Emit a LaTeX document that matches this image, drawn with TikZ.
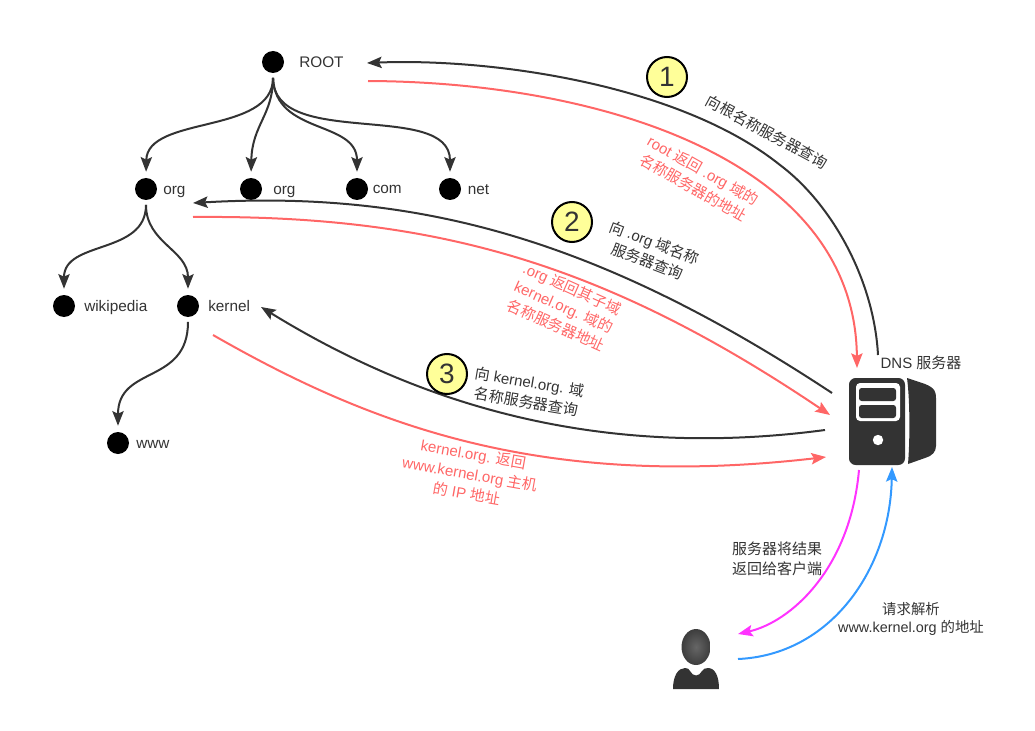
\documentclass[tikz,border=0pt]{standalone}
\usepackage{fontspec}
\setmainfont{Liberation Sans}
\newfontfamily\cjk{Noto Sans CJK SC}
\newcommand{\zh}[1]{{\cjk #1}}
\usetikzlibrary{arrows.meta}
\definecolor{ink}{HTML}{333333}
\definecolor{redline}{HTML}{FF6666}
\definecolor{magline}{HTML}{FF33FF}
\definecolor{blueline}{HTML}{3399FF}
\definecolor{badge}{HTML}{FFFF99}
\tikzset{
  dot/.style={circle,fill=black,draw=none,minimum size=16.5pt,inner sep=0pt},
  lbl/.style={text=ink,inner sep=0pt,font=\fontsize{11.25}{15}\selectfont,align=center},
  treelbl/.style={lbl,anchor=base west,font=\fontsize{11.5}{15}\selectfont},
  redlbl/.style={lbl,text=redline},
  num/.style={circle,draw=black,line width=1.5pt,fill=badge,minimum size=30pt,inner sep=0pt,text=ink,font=\fontsize{21}{24}\selectfont},
  conn/.style={line width=1.5pt,-{Stealth[length=11pt,width=8.5pt,inset=2pt]}},
  tree/.style={conn,draw=ink,shorten >=4.5pt,shorten <=3.5pt},
  ask/.style={conn,draw=ink},
  reply/.style={conn,draw=redline},
}
\begin{document}
\begin{tikzpicture}[x=0.75pt,y=-0.75pt]
\useasboundingbox (0,0) rectangle (1035,731);
% tree nodes
\node[dot] (root) at (273,62) {};
\node[dot] (org) at (146,189) {};
\node[dot] (orgb) at (251,189) {};
\node[dot] (com) at (357,189) {};
\node[dot] (net) at (450,189) {};
\node[dot] (wiki) at (64,306) {};
\node[dot] (kernel) at (188,306) {};
\node[dot] (www) at (118,443) {};
\node[treelbl] (lroot) at (299,68) {ROOT};
\node[treelbl] (lorg) at (163,195) {org};
\node[treelbl] (lorgb) at (273,195) {org};
\node[treelbl] (lcom) at (372.5,194) {com};
\node[treelbl] (lnet) at (467.5,195) {net};
\node[treelbl] (lwiki) at (84,311) {wikipedia};
\node[treelbl] (lkernel) at (208,311) {kernel};
\node[treelbl] (lwww) at (136,448) {www};
% tree edges
\draw[tree] (root.south) .. controls (273,135) and (147,115) .. (org.north);
\draw[tree] (root.south) .. controls (273,115) and (252,125) .. (orgb.north);
\draw[tree] (root.south) .. controls (275,135) and (357,120) .. (com.north);
\draw[tree] (root.south) .. controls (273,150) and (450,100) .. (net.north);
\draw[tree] (org.south) .. controls (146,255) and (64,240) .. (wiki.north);
\draw[tree] (org.south) .. controls (146,243) and (188,250) .. (kernel.north);
\draw[tree] (kernel.south) .. controls (188,385) and (118,365) .. (www.north);
% server icon
\begin{scope}
\fill[ink,rounded corners=5pt] (849,378) rectangle (905,465);
\fill[white,rounded corners=3pt] (856,383) rectangle (900,421);
\fill[ink,rounded corners=2pt] (859,388) rectangle (896,401);
\fill[ink,rounded corners=2pt] (859,405) rectangle (896,418);
\fill[white] (878,440) circle[radius=5.2];
\fill[ink] (907,378) -- (925,384) .. controls (935,388) and (936,392) .. (936,398) -- (936,446) .. controls (936,452) and (932,456) .. (925,458) -- (908,464) .. controls (910,440) and (910,400) .. (907,378) -- cycle;
\end{scope}
\node[inner sep=0pt,minimum width=65pt,minimum height=65pt] (server) at (892,421) {};
\node[lbl] (ldns) at (921,363) {DNS \zh{服务器}};
% person icon
\shade[inner color=ink!75,outer color=ink!95] (696,647) ellipse[x radius=14.5,y radius=18];
\fill[ink] (673,689) .. controls (673,676) and (678,668) .. (685,668) .. controls (688,668) and (689,669) .. (690,671) .. controls (693,677) and (699,677) .. (702,671) .. controls (703,669) and (705,668) .. (708,668) .. controls (715,668) and (719,676) .. (719,689) -- cycle;
\node[inner sep=0pt,minimum width=36pt,minimum height=46pt] (user) at (696,660) {};
% free ends
\coordinate (a1s) at (878,355);
\coordinate (a1m) at (780,165);
\coordinate (a1e) at (367,63);
\coordinate (r1s) at (368,81);
\coordinate (r1e) at (857,368);
\coordinate (a2s) at (832,393);
\coordinate (a2e) at (193,203);
\coordinate (r2s) at (193,217);
\coordinate (r2e) at (830,415);
\coordinate (a3s) at (825,430);
\coordinate (a3e) at (261,307);
\coordinate (r3s) at (213,335);
\coordinate (r3e) at (826,457);
\coordinate (ms) at (859,470);
\coordinate (me) at (738,634);
\coordinate (bs) at (738,659);
\coordinate (be) at (892,467);
% big connectors
\draw[ask] (a1s) .. controls (874,280) and (832,204) .. (a1m) .. controls (679,84) and (490,58) .. (a1e);
\draw[reply] (r1s) .. controls (600,82) and (855,160) .. (r1e);
\draw[ask] (a2s) .. controls (600,240) and (420,190) .. (a2e);
\draw[reply] (r2s) .. controls (430,215) and (600,260) .. (r2e);
\draw[ask] (a3s) .. controls (600,460) and (420,405) .. (a3e);
\draw[reply] (r3s) .. controls (370,425) and (540,490) .. (r3e);
\draw[conn,draw=magline] (ms) .. controls (850,570) and (790,622) .. (me);
\draw[conn,draw=blueline] (bs) .. controls (830,655) and (890,570) .. (be);
% badges
\node[num] (n1) at (667,77) {1};
\node[num] (n2) at (572,222) {2};
\node[num] (n3) at (447,374) {3};
% texts
\node[lbl,rotate=-28.5] (t1) at (767,132) {\zh{向根名称服务器查询}};
\node[redlbl,rotate=-29.5] (t2) at (698,179) {root \zh{返回} .org \zh{域的}\\\zh{名称服务器的地址}};
\node[lbl,rotate=-21] (t3) at (651,252) {\zh{向} .org \zh{域名称}\\\zh{服务器查询}};
\node[redlbl,rotate=-24] (t4) at (564,307) {.org \zh{返回其子域}\\kernel.org. \zh{域的}\\\zh{名称服务器地址}};
\node[lbl,rotate=-9.5] (t5) at (528,392) {\zh{向} kernel.org. \zh{域}\\\zh{名称服务器查询}};
\node[redlbl,rotate=-10] (t6) at (470,474) {kernel.org. \zh{返回}\\www.kernel.org \zh{主机}\\\zh{的} IP \zh{地址}};
\node[lbl] (t7) at (777,559) {\zh{服务器将结果}\\\zh{返回给客户端}};
\node[lbl,font=\fontsize{10.8}{13.5}\selectfont] (t8) at (911,619) {\zh{请求解析}\\www.kernel.org \zh{的地址}};
\end{tikzpicture}
\end{document}
